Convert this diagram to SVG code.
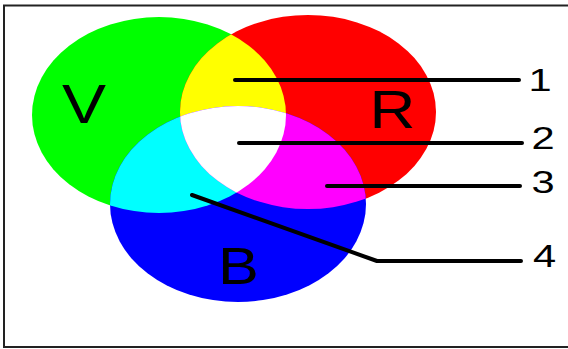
<svg xmlns="http://www.w3.org/2000/svg" width="568" height="349" viewBox="0 0 568 349">
<style>
.lbl{font-family:"Liberation Sans",Arial,sans-serif;fill:#000;text-anchor:middle}
.num{font-size:32px}
.lead{fill:none;stroke:#000;stroke-width:4;stroke-linecap:round;stroke-linejoin:round}
</style>
<defs>
<clipPath id="cG"><ellipse cx="159" cy="115" rx="127" ry="98"/></clipPath>
<clipPath id="cR"><ellipse cx="308" cy="112" rx="128" ry="97"/></clipPath>
</defs>
<rect x="0" y="0" width="568" height="349" fill="#fff"/>
<rect x="4" y="5.5" width="600" height="341.5" fill="none" stroke="#222" stroke-width="2"/>
<g id="green">
<ellipse cx="159" cy="115" rx="127" ry="98" fill="#00ff00"/>
<text class="lbl" font-size="55" transform="translate(84 123) scale(1.2 1)">V</text>
</g>
<g id="red">
<ellipse cx="308" cy="112" rx="128" ry="97" fill="#ff0000"/>
<text class="lbl" font-size="53" transform="translate(392.5 128) scale(1.2 1)">R</text>
</g>
<g id="blue">
<ellipse cx="238" cy="204" rx="128" ry="98" fill="#0000ff"/>
<text class="lbl" font-size="51" transform="translate(238.5 284) scale(1.2 1)">B</text>
</g>
<g id="yellow" clip-path="url(#cG)">
<ellipse cx="308" cy="112" rx="128" ry="97" fill="#ffff00"/>
</g>
<g id="cyan" clip-path="url(#cG)">
<ellipse cx="238" cy="204" rx="128" ry="98" fill="#00ffff"/>
</g>
<g id="magenta" clip-path="url(#cR)">
<ellipse cx="238" cy="204" rx="128" ry="98" fill="#ff00ff"/>
</g>
<g id="white" clip-path="url(#cG)">
<g clip-path="url(#cR)">
<ellipse cx="238" cy="204" rx="128" ry="98" fill="#ffffff"/>
</g>
</g>
<g id="connectors">
<line class="lead" x1="235" y1="80" x2="519" y2="80"/>
<line class="lead" x1="239" y1="143" x2="522" y2="143"/>
<line class="lead" x1="327" y1="186" x2="520" y2="186"/>
<polyline class="lead" points="192,195 377,261 521,261"/>
</g>
<g id="labels">
<text class="lbl num" transform="translate(540 91) scale(1.3 1)">1</text>
<text class="lbl num" transform="translate(543 148.5) scale(1.3 1)">2</text>
<text class="lbl num" transform="translate(543 192.5) scale(1.3 1)">3</text>
<text class="lbl num" transform="translate(544.5 267) scale(1.3 1)">4</text>
</g>
</svg>
